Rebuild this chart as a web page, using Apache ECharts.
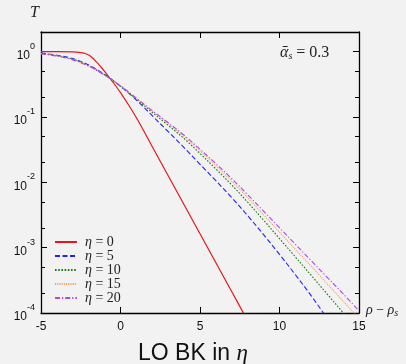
<!DOCTYPE html>
<html><head><meta charset="utf-8">
<script src="https://cdn.jsdelivr.net/npm/echarts@6/dist/echarts.min.js"></script>
<style>html,body{margin:0;padding:0;background:#f2f2f2}#c{width:406px;height:364px}</style>
</head><body><div id="c"></div>
<script>
// ---- data ----
const xs = [-5,-4,-3,-2,-1,0,1,2,3,4,5,6,7,8,9,10,11,12,13,14,15];
const redX = [-5,-4,-3,-2.5,-2.25,-2,-1.75,-1.5,-1.25,-1,-0.5,0,0.5,1,1.5,2,3,4,5,6,7,8];
const T_eta0 = [1.0,1.0,0.995,0.97,0.94,0.89,0.80,0.69,0.59,0.50,0.347,0.236,0.154,0.0975,0.0591,0.0351,0.0126,0.00454,0.00163,5.87e-4,2.11e-4,7.6e-5];
const T_eta5 = [0.953,0.881,0.784,0.623,0.448,0.295,0.182,0.1047,0.0596,0.0339,0.0189,0.01059,0.00581,0.00308,0.00158,7.9e-4,3.85e-4,1.83e-4,8.3e-5,3.9e-5,1.8e-5];
const T_eta10 = [0.938,0.868,0.768,0.610,0.441,0.296,0.1874,0.1172,0.0746,0.0467,0.0276,0.0160,0.00910,0.00496,0.00263,0.001377,7.21e-4,3.75e-4,1.95e-4,1.01e-4,5.15e-5];
const T_eta15 = [0.929,0.862,0.757,0.604,0.438,0.299,0.191,0.122,0.0789,0.0503,0.0303,0.0179,0.0104,0.00581,0.00318,0.001726,9.4e-4,5.18e-4,2.80e-4,1.52e-4,8.24e-5];
const T_eta20 = [0.922,0.859,0.749,0.600,0.436,0.301,0.194,0.125,0.0818,0.0526,0.0321,0.0193,0.01135,0.00646,0.00361,0.00202,0.001127,6.3e-4,3.52e-4,1.97e-4,1.08e-4];
const seriesNames = ['η = 0','η = 5','η = 10','η = 15','η = 20'];
const xTicks = [-5,0,5,10,15];
const yMajorTicks = [1e-4,1e-3,1e-2,1e-1,1];
const yMinorTicks = [2e-4,5e-4,2e-3,5e-3,2e-2,5e-2,2e-1,5e-1];

const serif = '"Liberation Serif","DejaVu Serif",serif';
const sans = '"Liberation Sans","DejaVu Sans",sans-serif';
const pair = (x, y) => x.map((v, i) => [v, y[i]]);

function yAx(pos, ticks, len, main) {
  return {
    type: 'log', position: pos, min: 1e-4, max: 2, logBase: 10,
    splitLine: {show: false},
    axisLine: {show: main, onZero: false, lineStyle: {color: '#000', width: 1.3}},
    axisTick: {show: true, inside: true, length: len, customValues: ticks, lineStyle: {color: '#000', width: 1}},
    axisLabel: (main && pos === 'left') ? {
      show: true, customValues: yMajorTicks, margin: 6, color: '#111',
      formatter: v => '{b|10}{s|' + Math.round(Math.log10(v)) + '}',
      rich: {
        b: {fontFamily: sans, fontSize: 12, lineHeight: 20, verticalAlign: 'bottom', color: '#111'},
        s: {fontFamily: sans, fontSize: 9, lineHeight: 10, verticalAlign: 'top', color: '#111'}
      }
    } : {show: false}
  };
}
function xAx(pos, main) {
  return {
    type: 'value', position: pos, min: -5, max: 15, interval: 5,
    splitLine: {show: false},
    axisLine: {show: true, onZero: false, lineStyle: {color: '#000', width: 1.3}},
    axisTick: {show: true, inside: true, length: 6, customValues: xTicks, lineStyle: {color: '#000'}},
    axisLabel: main ? {show: true, margin: 8, fontFamily: sans, fontSize: 12, color: '#111', customValues: xTicks} : {show: false},
    name: main ? '{i|ρ} − {i|ρ}{sub|s}' : '',
    nameLocation: 'end', nameGap: 7,
    nameTextStyle: {
      fontFamily: serif, fontSize: 14, color: '#222', verticalAlign: 'middle', padding: [0,0,6,0],
      rich: {
        i: {fontFamily: serif, fontStyle: 'italic', fontSize: 14, color: '#222'},
        sub: {fontFamily: serif, fontStyle: 'italic', fontSize: 10, color: '#222', verticalAlign: 'bottom', padding: [6,0,0,0]}
      }
    }
  };
}

const chart = echarts.init(document.getElementById('c'), null, {renderer: 'canvas'});
const colors = ['#e8161b', '#2222ff', '#167a16', '#f2a05e', '#b444f0'];
const dashes = ['solid', [5, 2.5], [1.6, 1.6], [1.1, 1.1], [5, 2, 1.2, 2]];
const datas = [pair(redX, T_eta0), pair(xs, T_eta5), pair(xs, T_eta10), pair(xs, T_eta15), pair(xs, T_eta20)];

chart.setOption({
  backgroundColor: '#f2f2f2',
  animation: false,
  grid: {left: 41, right: 47, top: 32, bottom: 51, containLabel: false},
  title: {
    text: '{a|LO BK in }{e|η}', left: 133, top: 337,
    textStyle: {
      fontWeight: 'normal',
      rich: {
        a: {fontFamily: sans, fontSize: 23, fontWeight: 'normal', color: '#111'},
        e: {fontFamily: serif, fontStyle: 'italic', fontWeight: 'normal', fontSize: 23, color: '#111'}
      }
    }
  },
  legend: {
    orient: 'vertical', left: 49, top: 230, itemWidth: 22, itemHeight: 10, itemGap: 0,
    data: seriesNames,
    itemStyle: {opacity: 0},
    formatter: n => '{i|η}' + n.slice(1),
    textStyle: {
      fontFamily: serif, fontSize: 14, lineHeight: 12, color: '#222', padding: [0,0,0,3],
      rich: {i: {fontFamily: serif, fontStyle: 'italic', fontSize: 14, lineHeight: 12, color: '#222'}}
    }
  },
  xAxis: [xAx('bottom', true), xAx('top', false)],
  yAxis: [yAx('left', yMajorTicks, 6, true), yAx('left', yMinorTicks, 4, false),
          yAx('right', yMajorTicks, 6, true), yAx('right', yMinorTicks, 4, false)],
  graphic: [
    {type: 'text', left: 30, top: 5, style: {text: 'T', font: 'italic 16px ' + serif, fill: '#222'}},
    {type: 'text', left: 280, top: 45, style: {
      text: '{a|ᾱ}{s|s}{n| = 0.3}',
      rich: {
        a: {fontFamily: serif, fontStyle: 'italic', fontSize: 16, fill: '#222', verticalAlign: 'bottom'},
        s: {fontFamily: serif, fontStyle: 'italic', fontSize: 10, fill: '#222', verticalAlign: 'bottom', padding: [6,0,0,0]},
        n: {fontFamily: serif, fontSize: 16, fill: '#222', verticalAlign: 'bottom'}
      }
    }}
  ],
  series: datas.map((d, i) => ({
    name: seriesNames[i], type: 'line', data: d, xAxisIndex: 0, yAxisIndex: 0,
    showSymbol: false, symbol: 'none', smooth: 0.35, clip: true,
    lineStyle: {color: colors[i], width: i === 0 ? 1.2 : 1.1, type: dashes[i]},
    itemStyle: {color: colors[i]}
  }))
});
</script></body></html>
